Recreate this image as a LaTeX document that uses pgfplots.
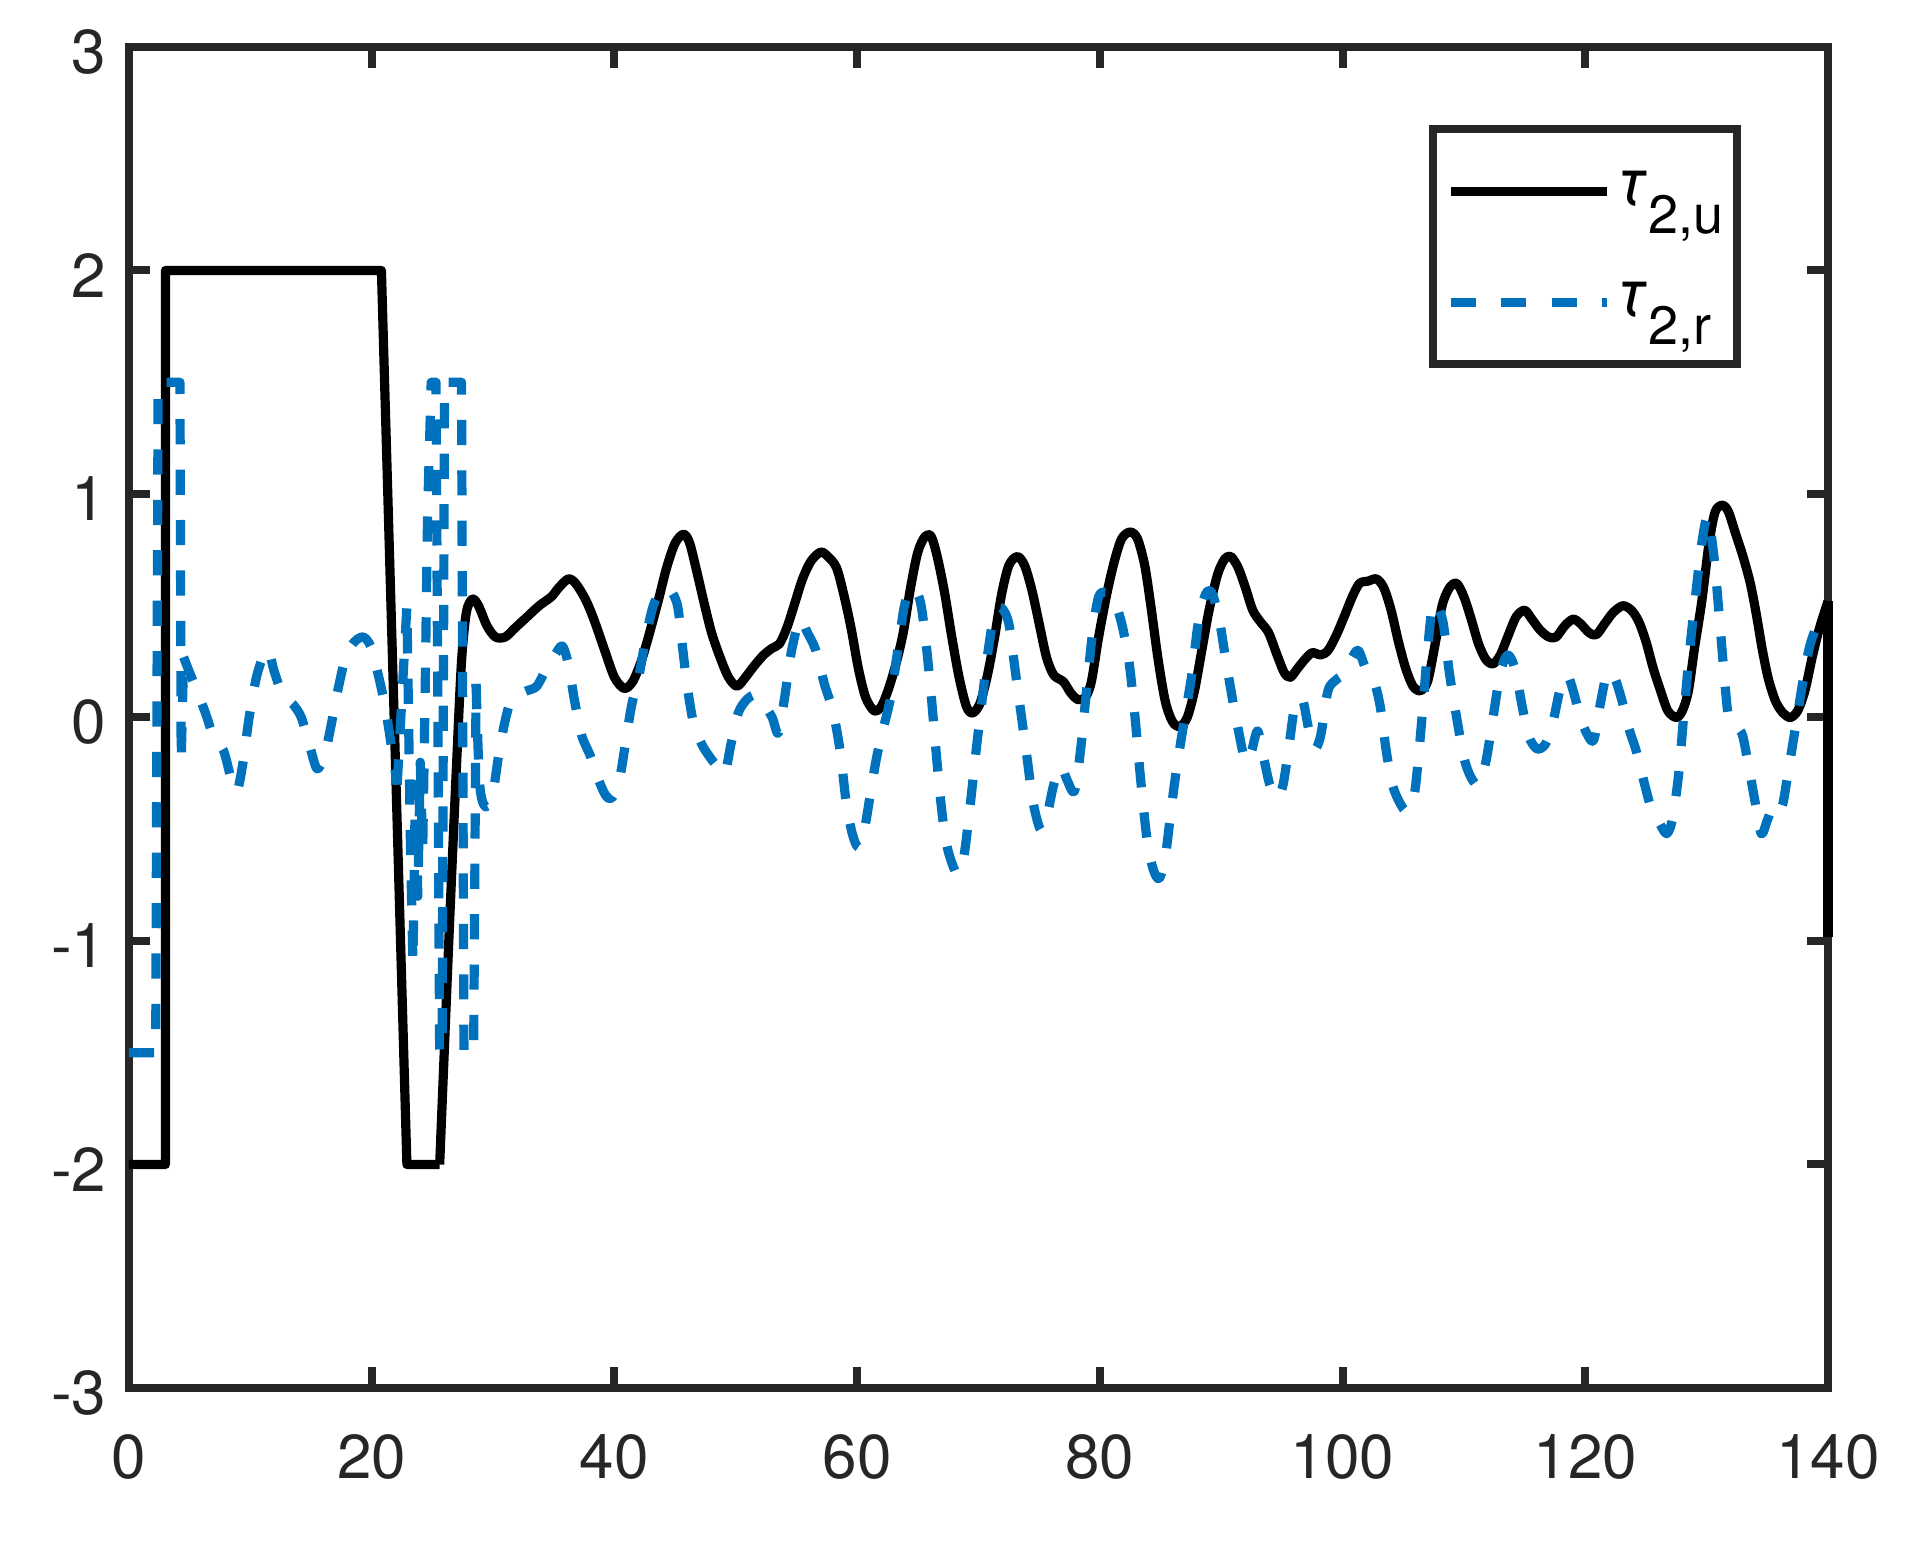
\documentclass[border=0pt]{standalone}
\usepackage{fontspec}
\setmainfont{TeX Gyre Heros}
\usepackage{pgfplots}
\pgfplotsset{compat=1.18}
\definecolor{axgray}{HTML}{262626}
\definecolor{mblue}{HTML}{0072BD}
\newcommand{\legtxt}[1]{\raisebox{0pt}[8.5pt][1pt]{{\fontsize{16.5}{18}\selectfont\itshape τ}\raisebox{-7pt}{\fontsize{13.5}{15}\selectfont #1}}}
\pgfplotsset{
 blk/.style={black, line width=2.3pt, line join=round},
 blu/.style={mblue, line width=2.3pt, line join=round, dash pattern=on 6.3pt off 6.3pt},
}
\begin{document}
\begin{tikzpicture}
\begin{axis}[
 at={(0pt,0pt)}, anchor=south west,
 scale only axis, width=424.75pt, height=335.25pt,
 xmin=0, xmax=140, ymin=-3, ymax=3,
 xtick={0,20,40,60,80,100,120,140},
 xticklabels={0,20,40,60,80,100,120,140},
 ytick={-3,-2,-1,0,1,2,3},
 yticklabels={-3,-2,-1,0,1,2,3},
 axis line style={draw=axgray, line width=2pt},
 tick style={draw=axgray, line width=2pt},
 tick align=inside, major tick length=5.25pt,
 ticklabel style={font=\fontsize{15.5}{18}\selectfont, text=axgray},
 xticklabel style={inner sep=0pt, anchor=north, yshift=-11.5pt},
 yticklabel style={inner sep=0pt, anchor=east, xshift=-5.5pt, yshift=-1.2pt},
 clip=false,
 legend cell align=left,
 legend image code/.code={\draw[#1] (0pt,0pt) -- (39pt,0pt);},
 legend style={at={(rel axis cs:0.7675,0.9386)}, anchor=north west,
   draw=axgray, line width=2pt, fill=white, outer sep=0pt,
   inner xsep=3.3pt, inner ysep=10.5pt, row sep=17.75pt, column sep=0.8pt,
   font=\fontsize{15.5}{18}\selectfont,
   nodes={inner sep=0pt}},
]
% tau_{2,u}
\addplot[blk] coordinates {
(0,-2)(3.0,-2)(3.0,2)(20.8,2)(22.9,-2)(25.6,-2)
};
\addlegendentry{\legtxt{2,u}}
\addplot[blk, smooth, forget plot] coordinates {
(25.6,-2)(26.4,-0.94)(27.0,-0.2)(27.4,0.25)(27.8,0.47)(28.3,0.53)(28.8,0.50)(29.5,0.41)(30.2,0.36)(31.0,0.36)(31.8,0.40)(32.8,0.45)(33.8,0.50)(34.8,0.54)(35.4,0.58)(36.2,0.62)(36.8,0.60)(37.6,0.53)(38.3,0.44)(39.2,0.30)(40.0,0.18)(40.8,0.13)(41.5,0.16)(42.2,0.25)(42.8,0.36)(43.6,0.52)(44.3,0.67)(45.0,0.78)(45.7,0.82)(46.2,0.78)(46.8,0.65)(47.4,0.51)(48.0,0.38)(48.7,0.27)(49.4,0.18)(50.1,0.14)(50.8,0.18)(51.5,0.23)(52.3,0.28)(53.0,0.31)(53.6,0.33)(54.2,0.40)(54.8,0.50)(55.5,0.62)(56.2,0.70)(57.0,0.74)(57.6,0.72)(58.3,0.67)(58.9,0.55)(59.5,0.40)(60.1,0.22)(60.7,0.09)(61.4,0.03)(62.0,0.05)(62.6,0.13)(63.2,0.24)(63.8,0.38)(64.4,0.58)(65.0,0.74)(65.6,0.81)(66.1,0.81)(66.6,0.72)(67.2,0.56)(67.8,0.36)(68.4,0.18)(69.0,0.05)(69.5,0.02)(70.1,0.06)(70.7,0.18)(71.3,0.35)(71.9,0.55)(72.5,0.68)(73.2,0.72)(73.8,0.68)(74.4,0.57)(75.0,0.42)(75.6,0.27)(76.2,0.19)(77.0,0.16)(77.6,0.11)(78.2,0.08)(78.8,0.09)(79.3,0.16)(79.9,0.36)(80.6,0.56)(81.2,0.70)(81.8,0.80)(82.5,0.83)(83.1,0.80)(83.7,0.68)(84.2,0.50)(84.8,0.26)(85.4,0.07)(86.0,-0.02)(86.6,-0.04)(87.2,0.00)(87.8,0.12)(88.4,0.30)(89.0,0.48)(89.7,0.64)(90.3,0.71)(90.8,0.72)(91.4,0.67)(92.0,0.58)(92.6,0.48)(93.2,0.43)(93.9,0.38)(94.6,0.28)(95.2,0.20)(95.7,0.18)(96.3,0.22)(96.9,0.26)(97.5,0.29)(98.2,0.28)(98.8,0.30)(99.5,0.37)(100.2,0.46)(100.8,0.54)(101.4,0.60)(102.1,0.61)(102.8,0.62)(103.4,0.58)(104.0,0.48)(104.6,0.34)(105.2,0.22)(105.8,0.14)(106.4,0.12)(107.0,0.16)(107.6,0.32)(108.2,0.50)(108.8,0.58)(109.4,0.60)(110.0,0.54)(110.6,0.44)(111.2,0.33)(111.8,0.26)(112.4,0.24)(113.0,0.28)(113.6,0.36)(114.3,0.45)(115.0,0.48)(115.6,0.44)(116.3,0.39)(117.0,0.36)(117.6,0.36)(118.3,0.41)(119.0,0.44)(119.6,0.42)(120.3,0.38)(120.9,0.37)(121.6,0.42)(122.3,0.47)(123.1,0.50)(123.8,0.48)(124.4,0.43)(125.0,0.34)(125.6,0.22)(126.2,0.12)(126.8,0.03)(127.5,0.0)(128.0,0.03)(128.5,0.12)(129.0,0.31)(129.6,0.52)(130.2,0.78)(130.7,0.92)(131.3,0.95)(131.8,0.92)(132.4,0.82)(133.0,0.72)(133.6,0.60)(134.1,0.46)(134.6,0.30)(135.1,0.17)(135.7,0.07)(136.3,0.02)(136.9,0.0)(137.5,0.03)(138.1,0.12)(138.7,0.27)(139.3,0.40)(140.0,0.52)
};
\addplot[blk, forget plot] coordinates {(140.0,0.52)(140.0,-0.98)};
% tau_{2,r}
\addplot[blu] coordinates {
(0,-1.5)(2.2,-1.5)(2.4,1.5)(4.2,1.5)(4.3,-0.2)(4.5,0.27)
};
\addlegendentry{\legtxt{2,r}}
\addplot[blu, smooth, forget plot] coordinates {
(4.5,0.27)(5.0,0.2)(5.6,0.12)(6.3,0.02)(7.0,-0.09)(7.8,-0.15)(8.4,-0.27)(8.9,-0.33)(9.4,-0.2)(9.9,0.0)(10.5,0.18)(11.1,0.28)(11.5,0.30)(12.0,0.2)(12.7,0.1)(13.5,0.06)(14.2,0.0)(14.9,-0.13)(15.5,-0.23)(16.1,-0.17)(16.6,-0.05)(17.2,0.12)(17.9,0.28)(18.6,0.34)(19.3,0.36)(19.9,0.32)(20.5,0.2)(21.1,0.05)(21.6,-0.12)(22.1,-0.3)
};
\addplot[blu, forget plot] coordinates {
(22.1,-0.3)(22.5,0.1)(22.9,0.5)(23.2,-0.6)(23.4,-1.1)(23.6,-0.3)(23.8,-0.8)(24.0,-0.2)(24.2,-0.6)(24.4,0.1)(24.6,0.9)(24.9,1.5)(25.3,1.5)(25.6,-1.5)(25.8,-1.5)(26.0,1.5)(27.4,1.5)(27.6,-1.5)(28.4,-1.5)(28.6,0.15)
};
\addplot[blu, smooth, forget plot] coordinates {
(28.6,0.15)(28.9,-0.3)(29.4,-0.4)(30.0,-0.33)(30.6,-0.12)(31.3,0.05)(32.0,0.1)(32.8,0.12)(33.6,0.14)(34.4,0.22)(35.1,0.28)(35.7,0.32)(36.2,0.24)(36.7,0.08)(37.3,-0.08)(38.0,-0.17)(38.7,-0.28)(39.3,-0.35)(39.8,-0.36)(40.4,-0.28)(40.9,-0.12)(41.4,0.05)(42.0,0.18)(42.6,0.36)(43.2,0.5)(43.9,0.57)(44.6,0.57)(45.2,0.5)(45.6,0.32)(46.0,0.14)(46.5,-0.02)(47.2,-0.12)(47.9,-0.18)(48.5,-0.22)(49.1,-0.25)(49.6,-0.12)(50.2,0.02)(50.9,0.08)(51.6,0.10)(52.3,0.06)(53.0,0.0)(53.5,-0.07)(54.0,0.08)(54.6,0.3)(55.3,0.44)(55.9,0.38)(56.6,0.3)(57.3,0.15)(58.0,0.03)(58.6,-0.15)(59.1,-0.38)(59.6,-0.52)(60.1,-0.58)(60.6,-0.5)(61.1,-0.34)(61.6,-0.18)(62.2,-0.04)(62.8,0.1)(63.4,0.32)(63.9,0.5)(64.5,0.58)(65.2,0.52)(65.7,0.32)(66.1,0.1)(66.5,-0.15)(66.9,-0.38)(67.3,-0.55)(67.8,-0.65)(68.3,-0.70)(68.8,-0.62)(69.3,-0.4)(69.8,-0.15)(70.3,0.08)(70.8,0.3)(71.3,0.46)(71.9,0.49)(72.5,0.42)(73.0,0.22)(73.5,0.02)(74.0,-0.18)(74.5,-0.38)(75.1,-0.50)(75.6,-0.45)(76.2,-0.30)(76.8,-0.22)(77.3,-0.28)(77.9,-0.33)(78.4,-0.15)(78.9,0.12)(79.4,0.38)(79.9,0.54)(80.5,0.56)(81.2,0.52)(81.8,0.42)(82.4,0.25)(82.9,0.0)(83.4,-0.3)(83.9,-0.55)(84.4,-0.68)(84.9,-0.72)(85.4,-0.62)(85.9,-0.40)(86.4,-0.2)(87.0,0.0)(87.6,0.2)(88.1,0.42)(88.7,0.55)(89.2,0.56)(89.8,0.45)(90.4,0.25)(91.0,0.06)(91.5,-0.08)(92.0,-0.2)(92.5,-0.15)(93.0,-0.06)(93.5,-0.18)(94.0,-0.3)(94.6,-0.36)(95.1,-0.3)(95.6,-0.12)(96.1,0.06)(96.7,0.08)(97.2,-0.05)(97.7,-0.14)(98.2,-0.08)(98.8,0.12)(99.5,0.17)(100.2,0.2)(100.8,0.27)(101.3,0.30)(101.9,0.22)(102.6,0.16)(103.1,0.05)(103.6,-0.15)(104.1,-0.3)(104.7,-0.38)(105.3,-0.42)(105.9,-0.35)(106.3,-0.15)(106.7,0.1)(107.0,0.3)(107.4,0.5)(107.8,0.50)(108.3,0.42)(108.8,0.2)(109.4,0.0)(110.0,-0.18)(110.6,-0.27)(111.2,-0.3)(111.8,-0.2)(112.4,0.0)(113.0,0.2)(113.6,0.28)(114.2,0.22)(114.8,0.05)(115.3,-0.08)(116.0,-0.14)(116.7,-0.12)(117.3,-0.03)(117.9,0.12)(118.5,0.19)(119.0,0.12)(119.6,0.0)(120.2,-0.08)(120.7,-0.1)(121.2,0.05)(121.8,0.2)(122.4,0.18)(123.0,0.08)(123.6,-0.05)(124.2,-0.15)(124.8,-0.28)(125.4,-0.40)(126.0,-0.46)(126.7,-0.52)(127.2,-0.45)(127.7,-0.25)(128.1,0.0)(128.6,0.3)(129.1,0.55)(129.6,0.78)(130.1,0.9)(130.6,0.72)(131.0,0.48)(131.4,0.22)(131.8,0.0)(132.3,-0.05)(132.9,-0.07)(133.4,-0.2)(134.0,-0.38)(134.5,-0.52)(135.0,-0.46)(135.6,-0.38)(136.2,-0.4)(136.7,-0.25)(137.3,-0.05)(137.9,0.15)(138.5,0.32)(139.2,0.42)(140.0,0.45)
};
\end{axis}
\path (-32.25pt,-38.5pt) rectangle (450.5pt,347pt);
\end{tikzpicture}
\end{document}
